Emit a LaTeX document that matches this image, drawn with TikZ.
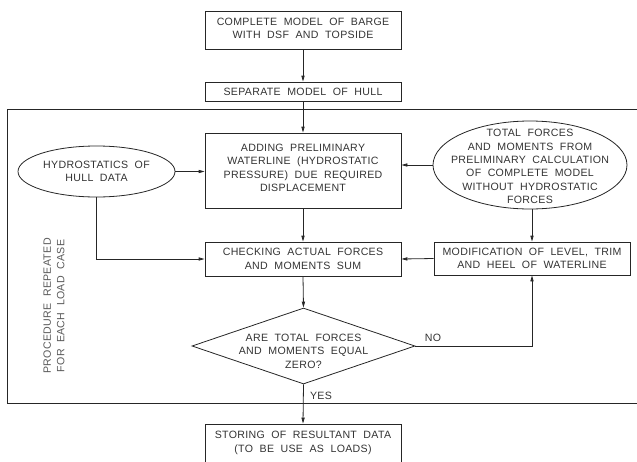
\documentclass[tikz,border=0pt]{standalone}
\usepackage{fontspec}
\setmainfont[LetterSpace=3,WordSpace=2]{Liberation Sans}
\usetikzlibrary{arrows.meta,shapes.geometric,calc}
\tikzset{
  ln/.style={draw=black!85,line width=0.8pt},
  arr/.style={ln,-{Triangle[length=6pt,width=3.2pt]}},
  txt/.style={font=\fontsize{10.6pt}{13.4pt}\selectfont,text=black!80,align=center,inner sep=0pt},
  boxnode/.style={ln,rectangle,minimum width=196pt,inner sep=0pt},
  ellnode/.style={ln,ellipse,inner sep=0pt},
  dianode/.style={ln,diamond,inner sep=0pt,minimum width=223pt,minimum height=76pt}
}
\begin{document}
\begin{tikzpicture}[x=1pt,y=1pt]
\useasboundingbox (0,0) rectangle (637,-461);
% frame
\coordinate (fr1) at (640,-109);
\coordinate (fr2) at (7,-109);
\coordinate (fr3) at (7,-403);
\coordinate (fr4) at (640,-403);
\draw[ln] (fr1) -- (fr2) -- (fr3) -- (fr4);
% boxes
\node[boxnode,minimum height=38pt] (b1) at (303,-30) {};
\node[txt] (t1) at (303,-28.5) {COMPLETE MODEL OF BARGE\\WITH DSF AND TOPSIDE};
\node[boxnode,minimum height=19pt] (b2) at (303,-91.5) {};
\node[txt] (t2) at (b2) {SEPARATE MODEL OF HULL};
\node[boxnode,minimum height=75pt] (b3) at (303,-170.5) {};
\node[txt] (t3) at (303,-168) {ADDING PRELIMINARY\\WATERLINE (HYDROSTATIC\\PRESSURE) DUE REQUIRED\\DISPLACEMENT};
\node[ellnode,minimum width=157pt,minimum height=51pt] (e1) at (96.5,-171.5) {};
\node[txt] (te1) at (e1) {HYDROSTATICS OF\\HULL DATA};
\node[ellnode,minimum width=194pt,minimum height=88pt] (e2) at (530,-165) {};
\node[txt] (te2) at (530,-166.5) {TOTAL FORCES\\AND MOMENTS FROM\\PRELIMINARY CALCULATION\\OF COMPLETE MODEL\\WITHOUT HYDROSTATIC\\FORCES};
\node[boxnode,minimum height=34pt] (b4) at (303,-259) {};
\node[txt] (t4) at (b4) {CHECKING ACTUAL FORCES\\AND MOMENTS SUM};
\node[boxnode,minimum height=33pt] (b5) at (532,-258.5) {};
\node[txt] (t5) at (b5) {MODIFICATION OF LEVEL, TRIM\\AND HEEL OF WATERLINE};
\node[dianode] (d) at (303.5,-346) {};
\node[txt] (td) at (303.5,-351) {ARE TOTAL FORCES\\AND MOMENTS EQUAL\\ZERO?};
\node[boxnode,minimum height=38pt] (b6) at (303,-443) {};
\node[txt] (t6) at (b6) {STORING OF RESULTANT DATA\\(TO BE USE AS LOADS)};
\node[txt,rotate=90,text=black!65] (proc) at (54,-306) {PROCEDURE REPEATED\\FOR EACH LOAD CASE};
% connectors
\draw[arr] (b1.south) -- (b2.north);
\draw[arr] (b2.south) -- (b3.north);
\draw[arr] (e1.east) -- (e1.east -| b3.west);
\draw[arr] (e2.west) -- (e2.west -| b3.east);
\draw[arr] (b3.south) -- (b4.north);
\draw[arr] (e1.south) |- (b4.west);
\draw[arr] (e2.south -| b5.north) -- (b5.north);
\draw[arr] (b5.west) -- (b4.east);
\draw[arr] (b4.south) -- (d.north);
\draw[arr] (d.east) -| (b5.south);
\draw[arr] (d.south) -- (b6.north);
\node[txt] (no) at (433,-338) {NO};
\node[txt] (yes) at (321,-396) {YES};
\end{tikzpicture}
\end{document}
